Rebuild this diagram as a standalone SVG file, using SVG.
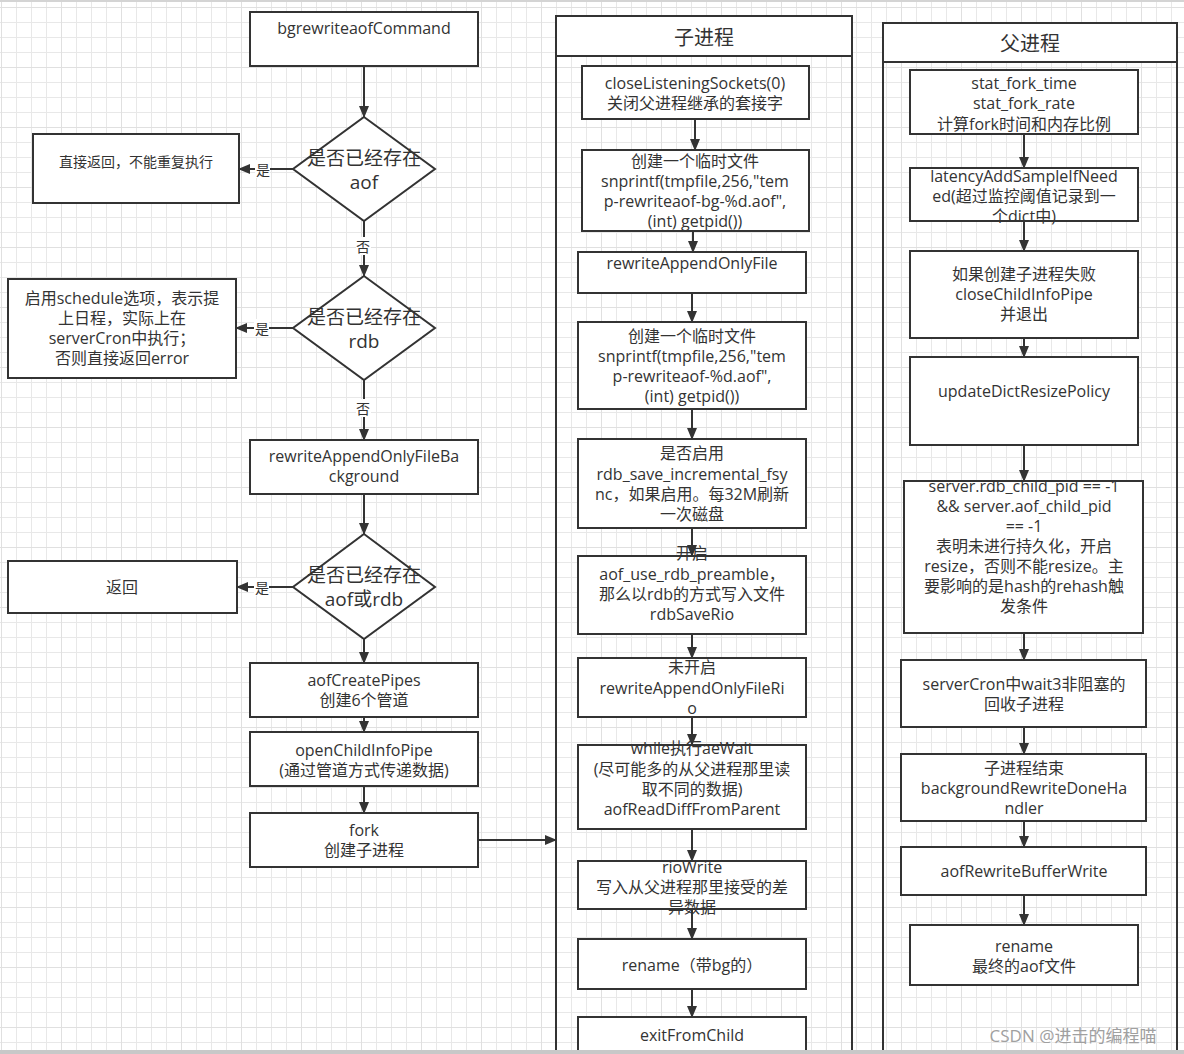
<svg xmlns="http://www.w3.org/2000/svg" width="1184" height="1054" viewBox="0 0 1184 1054">
<defs>
<pattern id="g" width="15" height="15" patternUnits="userSpaceOnUse" x="1" y="7">
<path d="M0 0.5H15M0.5 0V15" fill="none" stroke="#e8e8e8" stroke-width="1"/>
</pattern>
<pattern id="G" width="60" height="60" patternUnits="userSpaceOnUse" x="1" y="7">
<path d="M0 0.5H60M0.5 0V60" fill="none" stroke="#e0e0e0" stroke-width="1"/>
</pattern>
<marker id="ah" markerUnits="userSpaceOnUse" markerWidth="12" markerHeight="10" refX="11" refY="5" orient="auto">
<path d="M0,0 L12,5 L0,10 z" fill="#333"/>
</marker>
<style>
.n{fill:#fff;stroke:#333;stroke-width:2}
.lane{fill:none;stroke:#333;stroke-width:2}
.hd{fill:#fff;stroke:#333;stroke-width:2}
text{font-family:"Open Sans","Noto Sans CJK SC",sans-serif;font-size:16px;fill:#333;text-anchor:middle;dominant-baseline:central}
.big{font-size:19px}
.t{font-size:20px}
.sm{font-size:14px}
.c line{stroke:#333;stroke-width:2;marker-end:url(#ah)}
.lbl{font-size:14px}
</style>
</defs>
<rect width="1184" height="1054" fill="#fff"/>
<rect width="1184" height="1054" fill="url(#g)"/>
<rect width="1184" height="1054" fill="url(#G)"/>
<rect x="0" y="0" width="1184" height="2" fill="#d4d4d4"/>

<g id="lane-child">
<rect class="lane" x="556" y="16" width="296" height="1050"/>
<rect class="hd" x="556" y="16" width="296" height="40"/>
<text class="t" x="704" y="37">子进程</text>
</g>
<g id="lane-parent">
<rect class="lane" x="883" y="23" width="294" height="1050"/>
<rect class="hd" x="883" y="23" width="294" height="39"/>
<text class="t" x="1030" y="43">父进程</text>
</g>

<g id="n-bgrewrite"><rect class="n" x="250" y="12" width="228" height="54"/><text x="364" y="28">bgrewriteaofCommand</text></g>
<g id="n-d1"><polygon class="n" points="364,117 435,169 364,221 293,169"/><text class="big" x="364" y="158">是否已经存在</text><text class="big" x="364" y="182">aof</text></g>
<g id="n-ret1"><rect class="n" x="33" y="134" width="206" height="69"/><text class="sm" x="136" y="161">直接返回，不能重复执行</text></g>
<g id="n-d2"><polygon class="n" points="364,276 435,328 364,380 293,328"/><text class="big" x="364" y="317">是否已经存在</text><text class="big" x="364" y="341">rdb</text></g>
<g id="n-sched"><rect class="n" x="8" y="279" width="228" height="99"/>
<text x="122" y="298">启用schedule选项，表示提</text><text x="122" y="318">上日程，实际上在</text><text x="122" y="338">serverCron中执行；</text><text x="122" y="358">否则直接返回error</text></g>
<g id="n-rewriteBg"><rect class="n" x="250" y="440" width="228" height="54"/><text x="364" y="456">rewriteAppendOnlyFileBa</text><text x="364" y="476">ckground</text></g>
<g id="n-d3"><polygon class="n" points="364,534 435,587 364,639 293,587"/><text class="big" x="364" y="575">是否已经存在</text><text class="big" x="364" y="599">aof或rdb</text></g>
<g id="n-ret3"><rect class="n" x="8" y="561" width="229" height="52"/><text x="122" y="587">返回</text></g>
<g id="n-pipes"><rect class="n" x="250" y="663" width="228" height="54"/><text x="364" y="680">aofCreatePipes</text><text x="364" y="700">创建6个管道</text></g>
<g id="n-openInfo"><rect class="n" x="250" y="732" width="228" height="54"/><text x="364" y="750">openChildInfoPipe</text><text x="364" y="770">(通过管道方式传递数据)</text></g>
<g id="n-fork"><rect class="n" x="250" y="813" width="228" height="54"/><text x="364" y="830">fork</text><text x="364" y="850">创建子进程</text></g>

<g id="c1"><rect class="n" x="582" y="66" width="227" height="53"/><text x="695" y="83">closeListeningSockets(0)</text><text x="695" y="103">关闭父进程继承的套接字</text></g>
<g id="c2"><rect class="n" x="582" y="150" width="227" height="81"/><text x="695" y="161">创建一个临时文件</text><text x="695" y="181">snprintf(tmpfile,256,"tem</text><text x="695" y="201">p-rewriteaof-bg-%d.aof",</text><text x="695" y="221">(int) getpid())</text></g>
<g id="c3"><rect class="n" x="578" y="252" width="228" height="41"/><text x="692" y="263">rewriteAppendOnlyFile</text></g>
<g id="c4"><rect class="n" x="578" y="322" width="228" height="87"/><text x="692" y="336">创建一个临时文件</text><text x="692" y="356">snprintf(tmpfile,256,"tem</text><text x="692" y="376">p-rewriteaof-%d.aof",</text><text x="692" y="396">(int) getpid())</text></g>
<g id="c5"><rect class="n" x="578" y="439" width="228" height="89"/><text x="692" y="453">是否启用</text><text x="692" y="474">rdb_save_incremental_fsy</text><text x="692" y="494">nc，如果启用。每32M刷新</text><text x="692" y="514">一次磁盘</text></g>
<g id="c6"><rect class="n" x="578" y="556" width="228" height="78"/><text x="692" y="553">开启</text><text x="692" y="574">aof_use_rdb_preamble，</text><text x="692" y="594">那么以rdb的方式写入文件</text><text x="692" y="614">rdbSaveRio</text></g>
<g id="c7"><rect class="n" x="578" y="658" width="228" height="59"/><text x="692" y="667">未开启</text><text x="692" y="688">rewriteAppendOnlyFileRi</text><text x="692" y="708">o</text></g>
<g id="c8"><rect class="n" x="578" y="745" width="228" height="84"/><text x="692" y="748">while执行aeWait</text><text x="692" y="769">(尽可能多的从父进程那里读</text><text x="692" y="789">取不同的数据)</text><text x="692" y="809">aofReadDiffFromParent</text></g>
<g id="c9"><rect class="n" x="578" y="861" width="228" height="48"/><text x="692" y="867">rioWrite</text><text x="692" y="887">写入从父进程那里接受的差</text><text x="692" y="907">异数据</text></g>
<g id="c10"><rect class="n" x="578" y="939" width="228" height="50"/><text x="692" y="965">rename（带bg的）</text></g>
<g id="c11"><rect class="n" x="578" y="1017" width="228" height="60"/><text x="692" y="1035">exitFromChild</text></g>

<g id="p1"><rect class="n" x="910" y="70" width="228" height="64"/><text x="1024" y="83">stat_fork_time</text><text x="1024" y="103">stat_fork_rate</text><text x="1024" y="124">计算fork时间和内存比例</text></g>
<g id="p2"><rect class="n" x="910" y="168" width="228" height="53"/><text x="1024" y="176">latencyAddSampleIfNeed</text><text x="1024" y="196">ed(超过监控阈值记录到一</text><text x="1024" y="216">个dict中)</text></g>
<g id="p3"><rect class="n" x="910" y="251" width="228" height="87"/><text x="1024" y="274">如果创建子进程失败</text><text x="1024" y="294">closeChildInfoPipe</text><text x="1024" y="314">并退出</text></g>
<g id="p4"><rect class="n" x="910" y="357" width="228" height="88"/><text x="1024" y="391">updateDictResizePolicy</text></g>
<g id="p5"><rect class="n" x="904" y="481" width="239" height="152"/><text x="1024" y="486">server.rdb_child_pid == -1</text><text x="1024" y="506">&amp;&amp; server.aof_child_pid</text><text x="1024" y="526">== -1</text><text x="1024" y="546">表明未进行持久化，开启</text><text x="1024" y="566">resize，否则不能resize。主</text><text x="1024" y="586">要影响的是hash的rehash触</text><text x="1024" y="606">发条件</text></g>
<g id="p6"><rect class="n" x="901" y="660" width="245" height="67"/><text x="1024" y="684">serverCron中wait3非阻塞的</text><text x="1024" y="704">回收子进程</text></g>
<g id="p7"><rect class="n" x="901" y="754" width="245" height="67"/><text x="1024" y="768">子进程结束</text><text x="1024" y="788">backgroundRewriteDoneHa</text><text x="1024" y="808">ndler</text></g>
<g id="p8"><rect class="n" x="901" y="847" width="245" height="48"/><text x="1024" y="871">aofRewriteBufferWrite</text></g>
<g id="p9"><rect class="n" x="910" y="925" width="228" height="60"/><text x="1024" y="946">rename</text><text x="1024" y="966">最终的aof文件</text></g>

<g id="connectors" class="c">
<line x1="364" y1="66" x2="364" y2="117"/>
<line x1="293" y1="169" x2="239" y2="169"/>
<line x1="364" y1="221" x2="364" y2="276"/>
<line x1="293" y1="328" x2="236" y2="328"/>
<line x1="364" y1="380" x2="364" y2="440"/>
<line x1="364" y1="494" x2="364" y2="534"/>
<line x1="293" y1="587" x2="237" y2="587"/>
<line x1="364" y1="639" x2="364" y2="663"/>
<line x1="364" y1="717" x2="364" y2="732"/>
<line x1="364" y1="786" x2="364" y2="813"/>
<line x1="478" y1="840" x2="556" y2="840"/>
<line x1="695" y1="119" x2="695" y2="150"/>
<line x1="693" y1="231" x2="693" y2="252"/>
<line x1="692" y1="293" x2="692" y2="322"/>
<line x1="692" y1="409" x2="692" y2="439"/>
<line x1="692" y1="528" x2="692" y2="556"/>
<line x1="692" y1="634" x2="692" y2="658"/>
<line x1="692" y1="717" x2="692" y2="745"/>
<line x1="692" y1="829" x2="692" y2="861"/>
<line x1="692" y1="909" x2="692" y2="939"/>
<line x1="692" y1="989" x2="692" y2="1017"/>
<line x1="1024" y1="134" x2="1024" y2="168"/>
<line x1="1024" y1="221" x2="1024" y2="251"/>
<line x1="1024" y1="338" x2="1024" y2="357"/>
<line x1="1024" y1="445" x2="1024" y2="481"/>
<line x1="1024" y1="633" x2="1024" y2="660"/>
<line x1="1024" y1="727" x2="1024" y2="754"/>
<line x1="1024" y1="821" x2="1024" y2="847"/>
<line x1="1024" y1="895" x2="1024" y2="925"/>
<rect x="255" y="160" width="15" height="18" fill="#fff"/><text class="lbl" x="263" y="169">是</text>
<rect x="254" y="319" width="15" height="18" fill="#fff"/><text class="lbl" x="262" y="328">是</text>
<rect x="254" y="578" width="15" height="18" fill="#fff"/><text class="lbl" x="262" y="587">是</text>
<rect x="356" y="237" width="15" height="18" fill="#fff"/><text class="lbl" x="363" y="246">否</text>
<rect x="356" y="399" width="15" height="18" fill="#fff"/><text class="lbl" x="363" y="408">否</text>
</g>

<text x="1073" y="1035" style="font-size:17px;fill:#a0a0a0">CSDN @进击的编程喵</text>
<rect x="0" y="1050" width="1184" height="4" fill="#c8c8c8"/>
</svg>
